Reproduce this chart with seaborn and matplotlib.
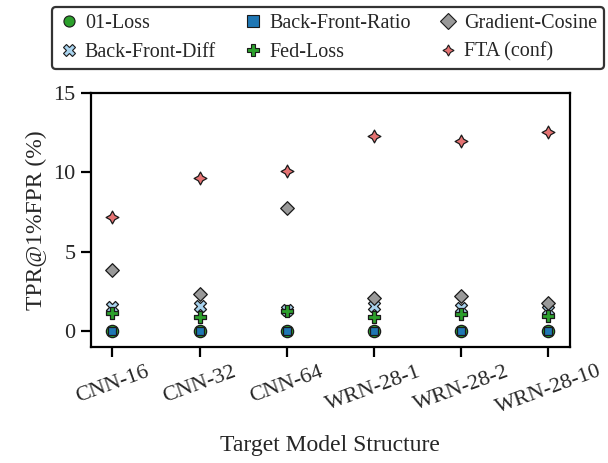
import pandas as pd
import matplotlib.pyplot as plt
import seaborn as sns
from matplotlib.lines import Line2D

# data
models = ["CNN-16", "CNN-32", "CNN-64", "WRN-28-1", "WRN-28-2", "WRN-28-10"]
loss01 = [0.0, 0.0, 0.0, 0.0, 0.0, 0.0]
back_front_diff = [1.53, 1.60, 1.35, 1.55, 1.43, 1.32]
back_front_ratio = [0.0, 0.0, 0.0, 0.0, 0.0, 0.0]
fed_loss = [1.17, 0.90, 1.25, 0.86, 1.07, 0.96]
gradient_cosine = [3.84, 2.31, 7.75, 2.06, 2.20, 1.74]
fta_conf = [7.19, 9.60, 10.08, 12.29, 11.96, 12.54]

methods = ["01-Loss", "Back-Front-Diff", "Back-Front-Ratio",
           "Fed-Loss", "Gradient-Cosine", "FTA (conf)"]
values = [loss01, back_front_diff, back_front_ratio,
          fed_loss, gradient_cosine, fta_conf]

rows = []
for m, vals in zip(methods, values):
    for i, v in enumerate(vals):
        rows.append({"Model": models[i], "pos": i, "Method": m, "TPR": v})
df = pd.DataFrame(rows)

colors = {"01-Loss": "#2ca02c", "Back-Front-Diff": "#a9d3ee",
          "Back-Front-Ratio": "#1f77b4", "Fed-Loss": "#2ca02c",
          "Gradient-Cosine": "#999999", "FTA (conf)": "#e57373"}
markers = {"01-Loss": "o", "Back-Front-Diff": "X", "Back-Front-Ratio": "s",
           "Fed-Loss": "P", "Gradient-Cosine": "D", "FTA (conf)": (4, 1, 0)}
sizes = {"01-Loss": 78, "Back-Front-Diff": 75, "Back-Front-Ratio": 38,
         "Fed-Loss": 82, "Gradient-Cosine": 48, "FTA (conf)": 85}

sns.set_theme(style="ticks")
plt.rcParams["font.family"] = ["Liberation Serif", "DejaVu Serif"]

fig = plt.figure(figsize=(6.08, 4.63), dpi=100)
ax = fig.add_axes([0.149, 0.2505, 0.7885, 0.5495])

for m in methods:
    sub = df[df["Method"] == m]
    sns.scatterplot(data=sub, x="pos", y="TPR", ax=ax, color=colors[m],
                    marker=markers[m], s=sizes[m], edgecolor="#1a1a1a",
                    linewidth=0.9, legend=False, zorder=3)

ax.set_xlim(-0.25, 5.25)
ax.set_ylim(-1, 15)
ax.set_xticks(range(len(models)))
ax.set_xticklabels(models, rotation=20, ha="center", fontsize=16)
ax.set_yticks([0, 5, 10, 15])
ax.tick_params(axis="y", labelsize=16)
ax.tick_params(direction="out", length=7.5, width=1.6, color="black")
for sp in ax.spines.values():
    sp.set_linewidth(1.6)
    sp.set_color("black")
ax.set_xlabel("Target Model Structure", fontsize=17, labelpad=12)
ax.set_ylabel("TPR@1%FPR (%)", fontsize=17)

handles = []
for m in methods:
    handles.append(Line2D([], [], linestyle="none", marker=markers[m],
                          markerfacecolor=colors[m], markeredgecolor="#1a1a1a",
                          markeredgewidth=0.8, markersize=8, label=m))
leg = fig.legend(handles=handles, ncol=3, loc="lower left",
                 bbox_to_anchor=(0.085, 0.851, 0.909, 0.138), mode="expand",
                 fontsize=14.5, frameon=True, fancybox=True, framealpha=1,
                 handletextpad=0.3, handlelength=1.0, borderpad=0.35,
                 labelspacing=0.45, borderaxespad=0)
leg.get_frame().set_edgecolor("#333333")
leg.get_frame().set_linewidth(1.6)

fig.savefig("out.png", dpi=100)
